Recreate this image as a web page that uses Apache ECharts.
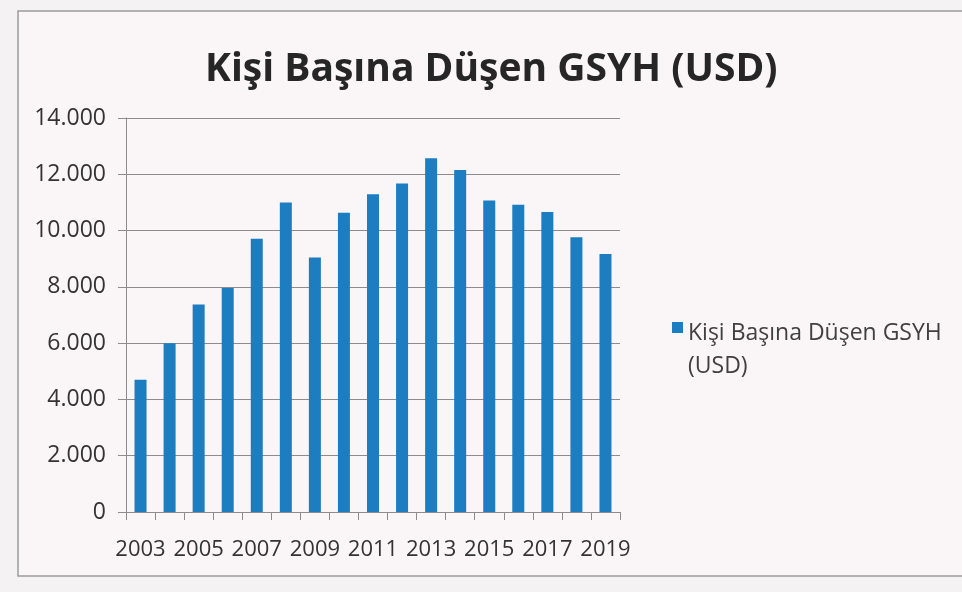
<!DOCTYPE html>
<html>
<head>
<meta charset="utf-8">
<script src="https://cdn.jsdelivr.net/npm/echarts@6/dist/echarts.min.js"></script>
<style>
  html, body { margin: 0; padding: 0; background: #f4f2f2; }
  #chart { width: 962px; height: 592px; }
</style>
</head>
<body>
<div id="chart"></div>
<script>
// Kişi başına düşen GSYH, ABD doları, 2003–2019
const years = ['2003', '2004', '2005', '2006', '2007', '2008', '2009', '2010', '2011',
               '2012', '2013', '2014', '2015', '2016', '2017', '2018', '2019'];
const gdpPerCapita = [4700, 6000, 7370, 7960, 9710, 11000, 9040, 10630, 11290,
                      11670, 12570, 12150, 11070, 10920, 10660, 9760, 9170];
const seriesName = 'Kişi Başına Düşen GSYH (USD)';
const chartTitle = 'Kişi Başına Düşen GSYH (USD)';

const FONT = '"Open Sans", "Noto Sans", sans-serif';

// 14000 -> "14.000"
function thousands(v) {
  return String(v).replace(/\B(?=(\d{3})+(?!\d))/g, '.');
}

// Legend swatch: an 11px square sitting at the top of a taller box, so the
// swatch lines up with the first line of the two-line legend label.
const LEGEND_ICON = 'path://M0,0L11,0L11,11L0,11Z M0,56L0.01,56L0,55.99Z';

const chart = echarts.init(document.getElementById('chart'));
chart.setOption({
  backgroundColor: '#f4f2f2',
  animation: false,
  graphic: [{
    type: 'rect',
    z: -10,
    silent: true,
    shape: { x: 18, y: 11, width: 1000, height: 565 },
    style: { fill: '#faf5f6', stroke: '#9c9c9c', lineWidth: 1.5 }
  }],
  title: {
    text: chartTitle,
    left: 200,
    top: 45,
    textStyle: { fontFamily: FONT, fontWeight: 'bold', fontSize: 39, color: '#262626' }
  },
  legend: {
    left: 667,
    top: 312,
    icon: LEGEND_ICON,
    itemWidth: 11,
    itemHeight: 56,
    itemStyle: { borderWidth: 0 },
    formatter: name => name.replace(' (USD)', '\n(USD)'),
    textStyle: { fontFamily: FONT, fontSize: 23, color: '#404040', lineHeight: 33 }
  },
  grid: { left: 126, top: 118, width: 494, height: 394, containLabel: false },
  xAxis: {
    type: 'category',
    data: years,
    axisLine: { lineStyle: { color: '#8c8c8c', width: 1 } },
    axisTick: { show: true, interval: 0, length: 8, lineStyle: { color: '#8c8c8c' } },
    axisLabel: {
      interval: 1, margin: 27,
      fontFamily: FONT, fontSize: 22, color: '#333333'
    }
  },
  yAxis: {
    type: 'value',
    min: 0, max: 14000, interval: 2000,
    axisLine: { show: true, lineStyle: { color: '#8c8c8c', width: 1 } },
    axisTick: { show: true, length: 8, lineStyle: { color: '#8c8c8c' } },
    axisLabel: {
      margin: 20, formatter: thousands,
      fontFamily: FONT, fontSize: 23, color: '#333333'
    },
    splitLine: { lineStyle: { color: '#8c8c8c', width: 1 } }
  },
  series: [{
    name: seriesName,
    type: 'bar',
    data: gdpPerCapita,
    barWidth: 12,
    itemStyle: { color: '#1d7dc1' }
  }]
});
</script>
</body>
</html>
